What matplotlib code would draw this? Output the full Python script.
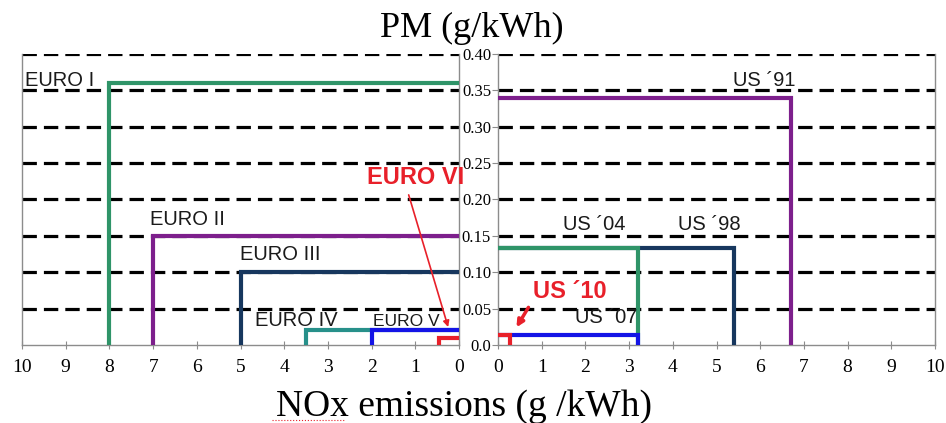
import matplotlib.pyplot as plt

# Emission limits (NOx in g/kWh, PM in g/kWh)
euro_names = ['EURO I', 'EURO II', 'EURO III', 'EURO IV', 'EURO V', 'EURO VI']
euro_nox = [8.0, 7.0, 5.0, 3.5, 2.0, 0.46]
euro_pm = [0.36, 0.15, 0.10, 0.02, 0.02, 0.01]

us_names = ['US \u00b491', 'US \u00b498', 'US \u00b404', 'US \u00b407', 'US \u00b410']
us_nox = [6.7, 5.4, 3.2, 3.2, 0.27]
us_pm = [0.34, 0.134, 0.134, 0.0134, 0.0134]

pm_ticks = [0.0, 0.05, 0.10, 0.15, 0.20, 0.25, 0.30, 0.35, 0.40]
pm_tick_labels = ['0.0', '0.05', '0.10', '0.15', '0.20', '0.25', '0.30', '0.35', '0.40']
nox_ticks = [0, 1, 2, 3, 4, 5, 6, 7, 8, 9, 10]

GREEN = '#2f9468'
PURPLE = '#7d1f8c'
NAVY = '#17375e'
TEAL = '#27908a'
BLUE = '#1414e6'
RED = '#e8202a'
GRAY = '#8c8c8c'

euro_colors = [GREEN, PURPLE, NAVY, TEAL, BLUE, RED]
us_colors = [PURPLE, NAVY, GREEN, BLUE, RED]

# label placement (x in NOx units, y in PM units), size, bold
euro_label_pos = {'EURO I': (9.93, 0.363, 14.5, False),
                  'EURO II': (7.07, 0.172, 14.5, False),
                  'EURO III': (5.01, 0.124, 14.5, False),
                  'EURO IV': (4.67, 0.034, 14.5, False),
                  'EURO V': (1.97, 0.032, 12.5, False),
                  'EURO VI': (2.1, 0.230, 17, True)}
us_label_pos = {'US \u00b491': (5.38, 0.364, 14.5, False),
                'US \u00b498': (4.12, 0.165, 14.5, False),
                'US \u00b404': (1.49, 0.165, 14.5, False),
                'US \u00b407': (1.76, 0.038, 14.5, False),
                'US \u00b410': (0.8, 0.074, 17, True)}

serif = 'Liberation Serif'
sans = 'Liberation Sans'

fig = plt.figure(figsize=(9.46, 4.23), dpi=100)
axL = fig.add_axes([0.0233, 0.1844, 0.4619, 0.688])
axR = fig.add_axes([0.5264, 0.1844, 0.4620, 0.688])


def style_axis(ax):
    ax.set_ylim(0, 0.40)
    ax.spines['top'].set_visible(False)
    for s in ['left', 'right', 'bottom']:
        ax.spines[s].set_color(GRAY)
        ax.spines[s].set_linewidth(1)
    # dashed horizontal guides
    for y in pm_ticks[1:]:
        ax.axhline(y, color='black', lw=2.3, ls=(0, (4.5, 2.2)), zorder=1)
    ax.set_xticks(nox_ticks)
    ax.set_xticklabels([str(v) for v in nox_ticks], fontfamily=serif, fontsize=14)
    ax.tick_params(axis='x', direction='inout', length=6, color=GRAY, pad=7)


# Europe side, NOx axis reversed
axL.set_xlim(10, 0)
style_axis(axL)
axL.tick_params(axis='y', left=False, right=False, labelleft=False)
for name, nox, pm, c in zip(euro_names, euro_nox, euro_pm, euro_colors):
    axL.plot([nox, nox, 0], [0, pm, pm], color=c, lw=3, zorder=3,
             solid_joinstyle='miter')
    x, y, fs, bold = euro_label_pos[name]
    axL.text(x, y, name, ha='left', va='center', fontfamily=sans, fontsize=fs,
             fontweight='bold' if bold else 'normal',
             color=RED if bold else '#1a1a1a', zorder=5, clip_on=False)
axL.annotate('', xy=(0.23, 0.021), xytext=(1.17, 0.21),
             arrowprops=dict(arrowstyle='-|>', color=RED, lw=1.2, mutation_scale=9),
             zorder=4)

# US side
axR.set_xlim(0, 10)
style_axis(axR)
axR.set_yticks(pm_ticks)
axR.set_yticklabels(pm_tick_labels, fontfamily=serif, fontsize=12)
axR.tick_params(axis='y', direction='out', length=4, color=GRAY, pad=1)
for name, nox, pm, c in zip(us_names, us_nox, us_pm, us_colors):
    axR.plot([nox, nox, 0], [0, pm, pm], color=c, lw=3, zorder=3,
             solid_joinstyle='miter')
    x, y, fs, bold = us_label_pos[name]
    axR.text(x, y, name, ha='left', va='center', fontfamily=sans, fontsize=fs,
             fontweight='bold' if bold else 'normal',
             color=RED if bold else '#1a1a1a', zorder=5, clip_on=False)
axR.annotate('', xy=(0.39, 0.021), xytext=(0.73, 0.055),
             arrowprops=dict(arrowstyle='-|>', color=RED, lw=2.5, mutation_scale=10),
             zorder=4)

fig.text(0.499, 0.912, 'PM (g/kWh)', ha='center', va='baseline',
         fontfamily=serif, fontsize=26)
fig.text(0.491, 0.016, 'NOx emissions (g /kWh)', ha='center', va='baseline',
         fontfamily=serif, fontsize=27)
# spell-check squiggle under "NOx"
fig.add_artist(plt.Line2D([272 / 946, 345 / 946], [0.007, 0.007], color=RED,
                          lw=0.8, ls=':', transform=fig.transFigure))

fig.savefig('out.png', dpi=100)
